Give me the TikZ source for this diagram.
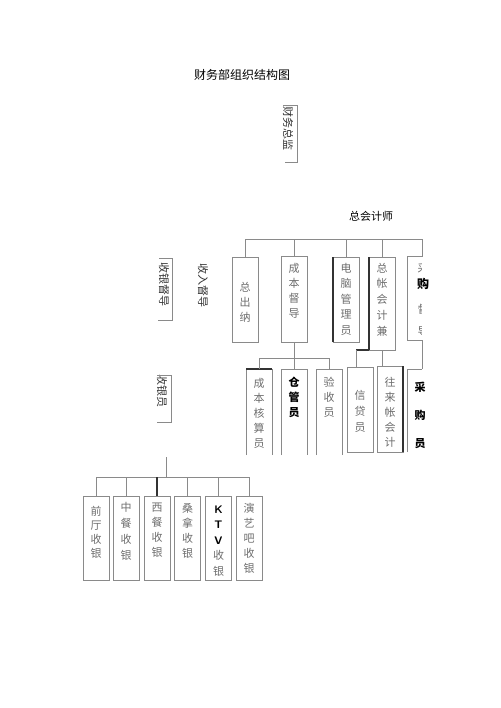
\documentclass[tikz,border=0pt]{standalone}
\usepackage{fontspec}
\setmainfont{Noto Sans CJK SC}
\definecolor{txt}{HTML}{6E6E6E}
\definecolor{ln}{HTML}{8A8A8A}
\definecolor{dk}{HTML}{333333}
\begin{document}
\begin{tikzpicture}[x=1pt,y=-1pt,
  box/.style={draw=ln, line width=0.8pt, minimum width=26pt, inner sep=0pt, outer sep=0pt},
  obox/.style={draw=none, minimum width=26pt, inner sep=0pt, outer sep=0pt},
  conn/.style={draw=ln, line width=0.8pt},
  dkline/.style={draw=dk, line width=1.1pt},
  vt/.style={text=txt, font=\fontsize{11}{15}\selectfont, align=center, inner sep=0pt},
  vtb/.style={text=black, font=\bfseries\fontsize{11}{15}\selectfont, align=center, inner sep=0pt},
  lbl/.style={text=dk, font=\fontsize{11}{13}\selectfont, inner sep=0pt}]
\fill[white] (0,0) rectangle (500,708);
\useasboundingbox (0,0) rectangle (500,708);

% title and heads
\node[lbl, text=black, font=\fontsize{12}{14}\selectfont] (title) at (242,75) {财务部组织结构图};
\node[lbl, rotate=-90] (cwzj) at (288,129) {财务总监};
\draw[conn] (283,105) -- (297,105) -- (297,162) -- (285,162);
\node[lbl, text=black] (zkjs) at (371,216) {总会计师};

% left labels
\node[lbl, rotate=-90] (sydd) at (164,284) {收银督导};
\draw[conn] (159,258) -- (172,258) -- (172,320) -- (158,320);
\node[lbl, rotate=-90] (srdd) at (203,285) {收入督导};
\node[lbl, rotate=-90] (syy) at (162,391) {收银员};
\draw[conn] (157,375) -- (171,375) -- (171,422) -- (157,422);

% row 1
\node[box, minimum height=85pt] (zcn) at (245,299.5) {};
\node[vt] (zcnT) at (245,302) {总\\出\\纳};
\node[box, minimum height=86pt] (cbdd) at (294,299) {};
\node[vt] (cbddT) at (294,290.5) {成\\本\\督\\导};
\node[box, minimum height=85pt] (dn) at (346,299.5) {};
\draw[dkline] (dn.south west) -- (dn.north west);
\node[vt, font=\fontsize{11}{15.5}\selectfont] (dnT) at (346,299) {电\\脑\\管\\理\\员};
\node[box, minimum height=93pt] (zz) at (382,303.5) {};
\draw[dkline] (zz.south west) -- (zz.north west);
\node[vt, font=\fontsize{11}{15.75}\selectfont] (zzT) at (382,299.5) {总\\帐\\会\\计\\兼};
% purchasing supervisor (cut off at the right)
\node[obox, minimum width=15pt, minimum height=83.5pt] (cgdd) at (414.5,298.25) {};
\draw[conn] (cgdd.north east) -- (cgdd.north west) -- (cgdd.south west) -- (cgdd.south east);
\begin{scope}
  \clip (408.5,257) rectangle (421.5,339);
  \node[vt] (cgddA) at (423,268) {采};
  \node[vt] (cgddC) at (423,309) {督};
  \node[vt] (cgddD) at (423,332) {导};
\end{scope}
\node[vtb, font=\bfseries\fontsize{12}{15}\selectfont] (cgddB) at (423,284) {购};

\coordinate (busA) at (245,239);
\draw[conn] (zcn.north) -- (zcn.north |- busA) -- (cgdd.north east |- busA) -- (cgdd.north east);
\foreach \n in {cbdd,dn,zz} \draw[conn] (\n.north) -- (\n.north |- busA);

% row 2 under cost supervisor
\node[obox, minimum height=86pt] (cbhs) at (259,412) {};
\draw[conn] (cbhs.south west) |- (cbhs.north east) -- (cbhs.south east);
\draw[dkline] (cbhs.north west) -- (cbhs.north east);
\node[vt] (cbhsT) at (259,413) {成\\本\\核\\算\\员};
\node[obox, minimum height=86pt] (cgy) at (294,412) {};
\draw[conn] (cgy.south west) |- (cgy.north east) -- (cgy.south east);
\node[vtb] (cgyT) at (294,397) {仓\\管\\员};
\node[obox, minimum height=86pt] (ysy) at (329,412) {};
\draw[conn] (ysy.south west) |- (ysy.north east) -- (ysy.south east);
\node[vt] (ysyT) at (329,397) {验\\收\\员};

\coordinate (busB) at (258,358);
\draw[conn] (cbdd.south) -- (cgy.north);
\draw[conn] (cbhs.north) -- (cbhs.north |- busB) -- (ysy.north |- busB) -- (ysy.north);

% row 2 under general ledger
\node[box, minimum height=85pt] (xdy) at (360,409.5) {};
\node[vt, font=\fontsize{11}{16}\selectfont] (xdyT) at (360,411) {信\\贷\\员};
\node[box, minimum height=86pt] (wlz) at (390,409) {};
\draw[dkline] (wlz.south east) -- (wlz.north east);
\node[vt] (wlzT) at (390,412) {往\\来\\帐\\会\\计};
\coordinate (jx) at (356,350);
\draw[dkline] (zz.south west) -- (jx);
\draw[conn] (jx) -- (jx |- xdy.north);
\draw[conn] (zz.south) -- (zz.south |- wlz.north);

% purchasing clerk
\node[obox, minimum width=15pt, minimum height=83pt] (cgy2) at (414.5,410.5) {};
\draw[conn] (cgy2.south west) -- (cgy2.north west) -- (cgy2.north east);
\draw[conn] (cgdd.south east) -- (cgy2.north east);
\node[vtb, font=\bfseries\fontsize{11}{28}\selectfont] (cgy2T) at (420,415) {采\\购\\员};

% bottom cashiers
\coordinate (bt) at (166,457);
\coordinate (busC) at (166,477);
\draw[conn] (bt) -- (busC);
\node[box, minimum height=84pt] (b1) at (96,538) {};
\node[vt, font=\fontsize{11}{14}\selectfont] (b1T) at (96,532) {前\\厅\\收\\银};
\node[box, minimum height=84pt] (b2) at (126,538) {};
\node[vt, font=\fontsize{11}{16}\selectfont] (b2T) at (126,531) {中\\餐\\收\\银};
\node[box, minimum height=84pt] (b3) at (157,538) {};
\node[vt] (b3T) at (157,530.5) {西\\餐\\收\\银};
\node[box, minimum height=84pt] (b4) at (187.5,538) {};
\node[vt] (b4T) at (187.5,530.5) {桑\\拿\\收\\银};
\node[box, minimum height=84pt] (b5) at (218.5,538) {};
\node[vt, font=\fontsize{11}{15.5}\selectfont] (b5T) at (218.5,541) {\textcolor{black}{\bfseries\sffamily K}\\\textcolor{black}{\bfseries\sffamily T}\\\textcolor{black}{\bfseries\sffamily V}\\收\\银};
\node[box, minimum height=84pt] (b6) at (249,538) {};
\node[vt] (b6T) at (249,538) {演\\艺\\吧\\收\\银};
\draw[conn] (b1.north |- busC) -- (b6.north |- busC);
\foreach \n in {b1,b2,b4,b5,b6} \draw[conn] (\n.north) -- (\n.north |- busC);
\draw[dkline] (b3.north) -- (b3.north |- busC);
\end{tikzpicture}
\end{document}
